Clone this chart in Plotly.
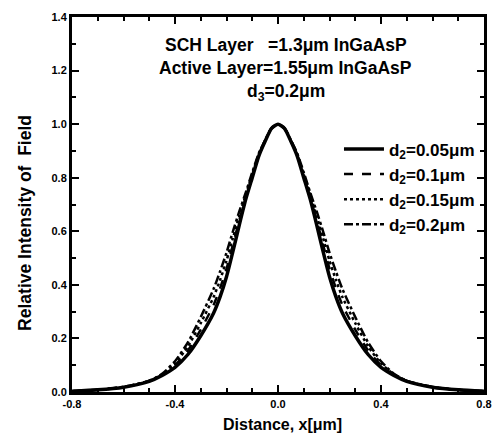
import plotly.graph_objects as go

# distance (um) and relative field intensity
x_um = [-0.8, -0.7, -0.6, -0.5, -0.45, -0.4, -0.35, -0.3, -0.25, -0.225, -0.2, -0.175, -0.15, -0.125,
        -0.1, -0.075, -0.05, -0.025, 0.0, 0.025, 0.05, 0.075, 0.1, 0.125, 0.15, 0.175, 0.2, 0.225,
        0.25, 0.3, 0.35, 0.4, 0.45, 0.5, 0.6, 0.7, 0.8]

i_d005 = [0.003, 0.008, 0.018, 0.040, 0.062, 0.092, 0.140, 0.210, 0.295, 0.355, 0.430, 0.525, 0.625, 0.720,
          0.800, 0.880, 0.936, 0.984, 1.0, 0.984, 0.936, 0.880, 0.800, 0.720, 0.625, 0.525, 0.430, 0.355,
          0.295, 0.210, 0.140, 0.092, 0.062, 0.040, 0.018, 0.008, 0.003]
i_d010 = [0.003, 0.008, 0.018, 0.041, 0.064, 0.100, 0.155, 0.233, 0.325, 0.387, 0.460, 0.550, 0.642, 0.728,
          0.807, 0.883, 0.937, 0.984, 1.0, 0.984, 0.937, 0.883, 0.807, 0.728, 0.642, 0.550, 0.460, 0.387,
          0.325, 0.233, 0.155, 0.100, 0.064, 0.041, 0.018, 0.008, 0.003]
i_d015 = [0.003, 0.008, 0.019, 0.041, 0.066, 0.107, 0.170, 0.257, 0.355, 0.418, 0.490, 0.575, 0.658, 0.737,
          0.813, 0.887, 0.939, 0.985, 1.0, 0.985, 0.939, 0.887, 0.813, 0.737, 0.658, 0.575, 0.490, 0.418,
          0.355, 0.257, 0.170, 0.107, 0.066, 0.041, 0.019, 0.008, 0.003]
i_d020 = [0.003, 0.008, 0.019, 0.042, 0.068, 0.115, 0.185, 0.280, 0.385, 0.450, 0.520, 0.600, 0.675, 0.745,
          0.820, 0.890, 0.940, 0.985, 1.0, 0.985, 0.940, 0.890, 0.820, 0.745, 0.675, 0.600, 0.520, 0.450,
          0.385, 0.280, 0.185, 0.115, 0.068, 0.042, 0.019, 0.008, 0.003]

series_names = ["d<sub>2</sub>=0.05μm", "d<sub>2</sub>=0.1μm",
                "d<sub>2</sub>=0.15μm", "d<sub>2</sub>=0.2μm"]
series_vals = [i_d005, i_d010, i_d015, i_d020]
series_dash = ["solid", "dash", "dot", "dashdot"]
series_width = [3.5, 2.5, 2.5, 2.5]

x_ticks = [-0.8, -0.4, 0.0, 0.4, 0.8]
y_ticks = [0.0, 0.2, 0.4, 0.6, 0.8, 1.0, 1.2, 1.4]

FONT = "Liberation Sans, Arial, sans-serif"

fig = go.Figure()
for name, vals, dash, w in zip(series_names, series_vals, series_dash, series_width):
    fig.add_trace(go.Scatter(
        x=x_um, y=vals, name=f"<b>{name}</b>", mode="lines",
        line=dict(color="black", width=w, dash=dash, shape="spline", smoothing=0.6),
    ))

axis_common = dict(
    showline=True, linecolor="black", linewidth=3, mirror="allticks",
    ticks="inside", ticklen=7, tickwidth=2, tickcolor="black",
    showgrid=False, zeroline=False,
    tickfont=dict(family=FONT, size=11, color="black"),
)

fig.update_layout(
    width=503, height=443,
    margin=dict(l=72, r=11, t=15, b=51),
    paper_bgcolor="white", plot_bgcolor="white",
    font=dict(family=FONT, color="black"),
    xaxis=dict(
        range=[-0.8, 0.8], tickvals=x_ticks,
        ticktext=[f"<b>{v:.1f}</b>" for v in x_ticks],
        minor=dict(dtick=0.1, ticks="inside", ticklen=4, tickwidth=2, tickcolor="black"),
        **axis_common,
    ),
    yaxis=dict(
        range=[0, 1.4], tickvals=y_ticks,
        ticktext=[f"<b>{v:.1f}</b>" for v in y_ticks],
        minor=dict(dtick=0.1, ticks="inside", ticklen=4, tickwidth=2, tickcolor="black"),
        **axis_common,
    ),
    legend=dict(
        x=0.648, y=0.695, xanchor="left", yanchor="top",
        bgcolor="rgba(0,0,0,0)", borderwidth=0,
        font=dict(family=FONT, size=17, color="black"),
        tracegroupgap=0, itemwidth=40,
    ),
    showlegend=True,
)

# axis titles as annotations so they sit where the original puts them
fig.add_annotation(
    x=0.512, y=-0.0875, xref="paper", yref="paper", text="<b>Distance, x[μm]</b>",
    showarrow=False, xanchor="center", yanchor="middle",
    font=dict(family=FONT, size=16, color="black"),
)
fig.add_annotation(
    x=-0.114, y=0.451, xref="paper", yref="paper", text="<b>Relative Intensity of  Field</b>",
    showarrow=False, textangle=-90, xanchor="center", yanchor="middle",
    font=dict(family=FONT, size=17.5, color="black"),
)

notes = ["SCH Layer   =1.3μm InGaAsP", "Active Layer=1.55μm InGaAsP", "d<sub>3</sub>=0.2μm"]
note_y = [1.295, 1.21, 1.12]
for txt, yy in zip(notes, note_y):
    fig.add_annotation(
        x=0.03, y=yy, xref="x", yref="y", text=f"<b>{txt}</b>", showarrow=False,
        font=dict(family=FONT, size=17.5, color="black"),
    )

fig.write_html("out.html", config={"displayModeBar": False},
               post_script="document.body.style.margin='0';")
